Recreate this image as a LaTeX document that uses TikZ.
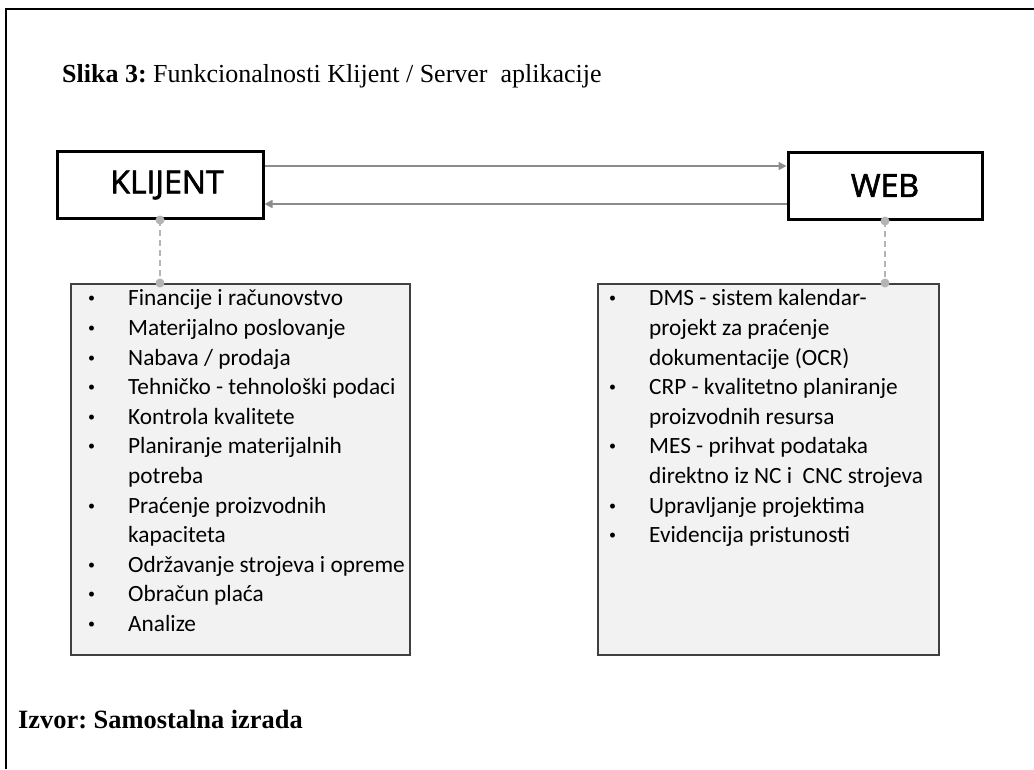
\documentclass[tikz,border=0pt]{standalone}
\usepackage{fontspec}
\setmainfont{Liberation Serif}
\newfontfamily\boxfont[FakeBold=2]{Open Sans}
\newfontfamily\listfont{Carlito}
\usetikzlibrary{arrows.meta}
\frenchspacing
\definecolor{linkgray}{HTML}{8C8C8C}
\definecolor{tiegray}{HTML}{B4B4B4}
\definecolor{boxfill}{HTML}{F2F2F2}
\definecolor{boxedge}{HTML}{404040}
\newcommand{\itembullet}{\raisebox{3pt}{\fontsize{14}{14}\selectfont\textbullet}}

\begin{document}
\begin{tikzpicture}[x=1pt, y=-1pt,
  mainbox/.style={shape=rectangle, draw=black, line width=3pt, fill=white, inner sep=0pt, font=\boxfont\fontsize{32}{36}\selectfont},
  listbox/.style={shape=rectangle, draw=boxedge, line width=1.6pt, fill=boxfill, inner sep=0pt},
  items/.style={anchor=north west, inner sep=0pt, font=\listfont\fontsize{23.3}{29.6}\selectfont},
  link/.style={-{Triangle[length=8pt,width=8pt]}, draw=linkgray, line width=1.6pt},
  tie/.style={draw=tiegray, line width=1.4pt, dash pattern=on 6pt off 4pt},
  tiedot/.style={shape=circle, fill=tiegray, inner sep=0pt, minimum size=9pt}]
\useasboundingbox (0,0) rectangle (1034,769);
\draw[line width=2pt] (6,769) -- (6,9) -- (1034,9);

\node[anchor=base west, inner sep=0pt, font=\fontsize{26}{28}\selectfont] (title) at (62,82) {\textbf{Slika 3:} Funkcionalnosti Klijent / Server\ \ aplikacije};

\node[mainbox, minimum width=206pt, minimum height=67pt] (klijent) at (160,185) {\hspace*{14pt}\raisebox{-1pt}{KLIJENT}};
\node[mainbox, minimum width=194pt, minimum height=67pt] (web) at (885,186) {\raisebox{1pt}{WEB}};

\node[listbox, anchor=north west, minimum width=339pt, minimum height=371pt] (klist) at (70,283) {};
\node[listbox, anchor=north west, minimum width=341pt, minimum height=371pt] (wlist) at (597,283) {};

\draw[link] ([yshift=19pt]klijent.east) -- ([yshift=20pt]web.west);
\draw[link] ([yshift=-18pt]web.west) -- ([yshift=-19pt]klijent.east);

\draw[tie] (klijent.south) -- (klijent.south |- klist.north);
\draw[tie] (web.south) -- (web.south |- wlist.north);
\node[tiedot] at (klijent.south) {};
\node[tiedot] at (klijent.south |- klist.north) {};
\node[tiedot] at (web.south) {};
\node[tiedot] at (web.south |- wlist.north) {};

\node[items] (kitems) at (88,285) {\begin{tabular}{@{}p{40pt}@{}l@{}}
\itembullet & Financije i računovstvo\\
\itembullet & Materijalno poslovanje\\
\itembullet & Nabava / prodaja\\
\itembullet & Tehničko - tehnološki podaci\\
\itembullet & Kontrola kvalitete\\
\itembullet & Planiranje materijalnih\\
 & potreba\\
\itembullet & Praćenje proizvodnih\\
 & kapaciteta\\
\itembullet & Održavanje strojeva i opreme\\
\itembullet & Obračun plaća\\
\itembullet & Analize
\end{tabular}};

\node[items] (witems) at (609,285) {\begin{tabular}{@{}p{40pt}@{}l@{}}
\itembullet & DMS - sistem kalendar-\\
 & projekt za praćenje\\
 & dokumentacije (OCR)\\
\itembullet & CRP - kvalitetno planiranje\\
 & proizvodnih resursa\\
\itembullet & MES - prihvat podataka\\
 & direktno iz NC i\ \ CNC strojeva\\
\itembullet & Upravljanje projektima\\
\itembullet & Evidencija pristunosti
\end{tabular}};

\node[anchor=base west, inner sep=0pt, font=\bfseries\fontsize{26.4}{28}\selectfont] (source) at (18,728) {Izvor: Samostalna izrada};
\end{tikzpicture}
\end{document}
